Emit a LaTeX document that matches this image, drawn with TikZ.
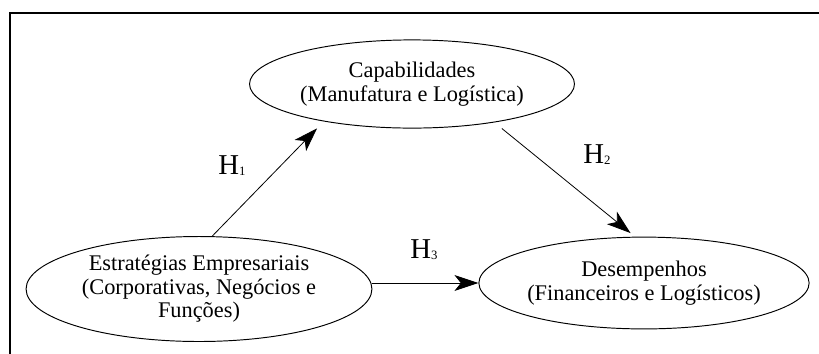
\documentclass[tikz,border=0pt]{standalone}
\usepackage{fontspec}
\setmainfont{Liberation Serif}
\usepackage{tikz}
\usetikzlibrary{arrows.meta,positioning,shapes.geometric}

\newcommand{\hyplabel}[1]{H\raisebox{-1pt}{\fontsize{8}{8}\selectfont #1}}

\begin{document}
\begin{tikzpicture}[->,>={Stealth[length=15pt,width=10pt,inset=4pt]},x=0.022cm,y=-0.022cm,
                    line width=0.5pt]
  \tikzstyle{every node}=[font=\fontsize{14}{14.7}\selectfont]
  \tikzstyle{construct}=[draw,ellipse,inner sep=0pt,align=center,line width=0.6pt]
  \tikzstyle{hyp}=[anchor=base west,inner sep=0pt,font=\fontsize{18}{20}\selectfont]

  \useasboundingbox (0,0) rectangle (819,353);
  \draw[-,line width=1.3pt] (10,360) -- (10,13) -- (830,13);

  \node[construct,minimum width=7.15cm,minimum height=1.94cm]	(cap)    at (412,84)   {Capabilidades\\(Manufatura e Logística)};
  \node[construct,minimum width=7.61cm,minimum height=2.31cm]	(estr)   at (199,289)  {Estratégias Empresariais\\(Corporativas, Negócios e\\Funções)};
  \node[construct,minimum width=7.22cm,minimum height=2.02cm]	(desemp) at (644,283)  {Desempenhos\\(Financeiros e Logísticos)};

  \node[hyp]	(h1) at (218,174)	{\hyplabel{1}};
  \node[hyp]	(h2) at (583,163)	{\hyplabel{2}};
  \node[hyp]	(h3) at (410,258)	{\hyplabel{3}};

  \path (estr.76) 	edge	[shorten >=6pt]				(cap.203);
  \path (cap.335) 	edge	[shorten <=6pt,shorten >=3.6pt]	(desemp.101.7);
  \path (estr.east |- desemp.west) 	edge 	(desemp.west);

\end{tikzpicture}
\end{document}
